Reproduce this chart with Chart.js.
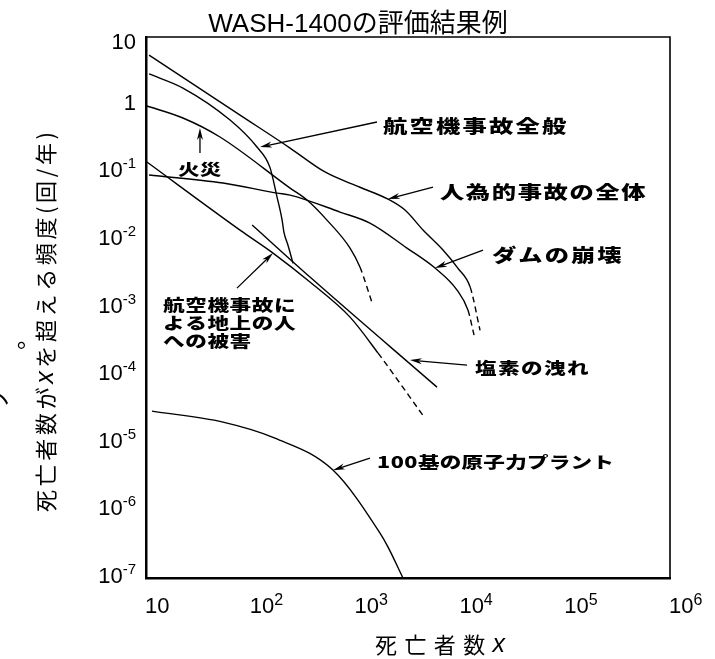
<!DOCTYPE html>
<html>
<head>
<meta charset="utf-8">
<script src="https://cdn.jsdelivr.net/npm/chart.js@4"></script>
<style>
  html, body { margin: 0; padding: 0; background: #fff; }
  #wrap { width: 715px; height: 659px; position: relative; }
</style>
</head>
<body>
<div id="wrap"><canvas id="risk-chart"></canvas></div>
<script>
// values: x = deaths, y = frequency per year of exceeding x

// 人為的事故の全体
const totalX = [10.7, 79, 237, 510, 1100, 2040, 2960, 4400, 6820, 9490, 12400, 15400];
const totalY = [5.4, 0.70, 0.228, 0.101, 0.060, 0.040, 0.0276, 0.0140, 0.0071, 0.0038, 0.0020, 0.00046];
// 航空機事故全般
const airX = [10.7, 22.5, 63.4, 114.5, 152, 178, 199, 207, 226, 253];
const airY = [2.84, 1.76, 0.591, 0.236, 0.119, 0.043, 0.0196, 0.0130, 0.0084, 0.0045];
// 火災
const fireX = [10.2, 22.5, 50.8, 237, 344, 533, 885, 1100, 1430];
const fireY = [0.953, 0.634, 0.332, 0.0583, 0.0388, 0.0196, 0.00757, 0.00396, 0.0012];
// ダムの崩壊
const damX = [10.7, 54.3, 178, 237, 709, 1370, 3090, 5730, 9290, 11800, 13500];
const damY = [0.091, 0.0692, 0.0492, 0.046, 0.0258, 0.0177, 0.00757, 0.00383, 0.00181, 0.000916, 0.000391];
// 塩素の洩れ
const chlorineX = [103, 367, 5980];
const chlorineY = [0.0166, 0.00282, 0.0000664];
// 航空機事故による地上の人への被害
const groundX = [10.2, 78.9, 163, 367, 885, 1640, 4590];
const groundY = [0.1416, 0.01396, 0.00638, 0.00238, 0.000721, 0.000211, 0.0000231];
// 100基の原子力プラント
const nuclearX = [11.4, 54.3, 170, 608, 1710, 2040, 2830];
const nuclearY = [2.93e-5, 2.02e-5, 1.17e-5, 3.94e-6, 4.6e-7, 2.86e-7, 1.0e-7];

// tick labels (powers of ten)
const xTickExps = [1, 2, 3, 4, 5, 6];
const yTickExps = [1, 0, -1, -2, -3, -4, -5, -6, -7];

const JP = "'Noto Sans CJK JP', sans-serif";
const LAT = "'Liberation Sans', Arial, sans-serif";

// dashFrom: index of the point where the dashed (extrapolated) part begins
const series = [
  { label: '人為的事故の全体', xs: totalX, ys: totalY, dashFrom: 10 },
  { label: '航空機事故全般', xs: airX, ys: airY },
  { label: '火災', xs: fireX, ys: fireY, dashFrom: 7 },
  { label: 'ダムの崩壊', xs: damX, ys: damY, dashFrom: 9 },
  { label: '塩素の洩れ', xs: chlorineX, ys: chlorineY },
  { label: '航空機事故による地上の人への被害', xs: groundX, ys: groundY, dashFrom: 5 },
  { label: '100基の原子力プラント', xs: nuclearX, ys: nuclearY }
];

// callouts, anchored in log10 data space
const notes = [
  { lines: ['航空機事故全般'], at: [3.261, -0.317], tail: [3.204, -0.257], tip: [2.088, -0.627], size: 18, adv: 26.5 },
  { lines: ['人為的事故の全体'], at: [3.805, -1.293], tail: [3.739, -1.219], tip: [3.309, -1.396], size: 18, adv: 25.9 },
  { lines: ['ダムの崩壊'], at: [4.302, -2.225], tail: [4.216, -2.151], tip: [3.758, -2.417], size: 18, adv: 26.3 },
  { lines: ['塩素の洩れ'], at: [4.139, -3.896], tail: [4.063, -3.852], tip: [3.519, -3.778], size: 16, adv: 23 },
  { lines: ['100基の原子力プラント'], at: [3.204, -5.287], tail: [3.137, -5.228], tip: [2.784, -5.405], size: 16, adv: 21.8 },
  { lines: ['火災'], at: [1.305, -0.953], tail: [1.515, -0.716], tip: [1.515, -0.346], size: 16, adv: 21.7 },
  { lines: ['航空機事故に', 'よる地上の人', 'への被害'], at: [1.162, -2.964], tail: [1.868, -2.713], tip: [2.212, -2.195], size: 16, adv: 22.2 }
];

function isWide(ch) {
  return /[\u3000-\u9fff\uff00-\uffef]/.test(ch);
}

function spreadText(ctx, text, x, y, size, adv) {
  const hs = 1.35;
  ctx.font = `900 ${size}px ${JP}`;
  ctx.textAlign = 'left';
  ctx.textBaseline = 'middle';
  let cx = x;
  for (const ch of text) {
    ctx.save();
    ctx.translate(cx, y);
    ctx.scale(hs, 1);
    ctx.fillText(ch, 0, 0);
    ctx.restore();
    cx += isWide(ch) ? adv : ctx.measureText(ch).width * hs + 0.5;
  }
}

function arrow(ctx, from, to) {
  const [x0, y0] = from, [x1, y1] = to;
  const a = Math.atan2(y1 - y0, x1 - x0);
  const L = 12, W = 3;
  const c = Math.cos(a), s = Math.sin(a);
  ctx.lineWidth = 1.3;
  ctx.beginPath();
  ctx.moveTo(x0, y0);
  ctx.lineTo(x1 - c * L * 0.7, y1 - s * L * 0.7);
  ctx.stroke();
  ctx.beginPath();
  ctx.moveTo(x1, y1);
  ctx.lineTo(x1 - L * c + W * s, y1 - L * s - W * c);
  ctx.lineTo(x1 - L * 0.7 * c, y1 - L * 0.7 * s);
  ctx.lineTo(x1 - L * c - W * s, y1 - L * s + W * c);
  ctx.closePath();
  ctx.fill();
}

function powLabel(ctx, exp, x, y, align, supSize, rise) {
  const base = exp === 0 ? '1' : '10';
  const sup = (exp === 0 || exp === 1) ? '' : String(exp);
  ctx.textAlign = 'left';
  ctx.textBaseline = 'alphabetic';
  ctx.font = `22px ${LAT}`;
  const wb = ctx.measureText(base).width;
  ctx.font = `${supSize}px ${LAT}`;
  const ws = sup ? ctx.measureText(sup).width : 0;
  const x0 = align === 'right' ? x - wb - ws : x;
  ctx.font = `22px ${LAT}`;
  ctx.fillText(base, x0, y);
  if (sup) {
    ctx.font = `${supSize}px ${LAT}`;
    ctx.fillText(sup, x0 + wb, y - rise);
  }
}

// lay out a run of glyphs (mixed fonts) evenly over a given length, centred on 0
function fittedRun(ctx, parts, length) {
  const glyphs = [];
  for (const p of parts) {
    ctx.font = p.font;
    for (const ch of p.text) glyphs.push({ ch, font: p.font, w: ctx.measureText(ch).width });
  }
  const sum = glyphs.reduce((t, g) => t + g.w, 0);
  const gap = (length - sum) / (glyphs.length - 1);
  let cx = -length / 2;
  ctx.textAlign = 'left';
  for (const g of glyphs) {
    ctx.font = g.font;
    ctx.fillText(g.ch, cx, 0);
    cx += g.w + gap;
  }
}

const figureText = {
  id: 'figureText',
  afterDraw(chart) {
    const { ctx, chartArea: a, scales: { x: sx, y: sy } } = chart;
    const P = ([lx, ly]) => [sx.getPixelForValue(10 ** lx), sy.getPixelForValue(10 ** ly)];
    ctx.save();
    ctx.fillStyle = '#000';
    ctx.strokeStyle = '#000';

    // top and right edges of the frame
    ctx.lineWidth = 1.6;
    ctx.beginPath();
    ctx.moveTo(a.left, a.top);
    ctx.lineTo(a.right, a.top);
    ctx.lineTo(a.right, a.bottom);
    ctx.stroke();

    // title
    ctx.font = `26px 'Liberation Sans', 'Noto Sans CJK JP', sans-serif`;
    ctx.textAlign = 'center';
    ctx.textBaseline = 'alphabetic';
    ctx.fillText('WASH-1400の評価結果例', 358, 32);

    // tick labels
    yTickExps.forEach(e => {
      const ty = sy.getPixelForValue(10 ** e);
      powLabel(ctx, e, a.left - 10, Math.max(ty + 5, 49), 'right', 15, 9);
    });
    xTickExps.forEach(e => {
      const tx = sx.getPixelForValue(10 ** e);
      powLabel(ctx, e, tx - 1, 613, 'left', 16, 8);
    });

    // axis titles
    ctx.save();
    ctx.translate(a.left + (440 - 146), 645);
    ctx.textBaseline = 'middle';
    fittedRun(ctx, [
      { text: '死亡者数', font: `22px ${JP}` },
      { text: 'x', font: `italic 25px ${LAT}` }
    ], 130);
    ctx.restore();

    ctx.save();
    ctx.translate(46, 322);
    ctx.rotate(-Math.PI / 2);
    ctx.textBaseline = 'middle';
    fittedRun(ctx, [
      { text: '死亡者数が', font: `22px ${JP}` },
      { text: 'x', font: `italic 25px ${LAT}` },
      { text: 'を超える頻度(回/年)', font: `22px ${JP}` }
    ], 380);
    ctx.restore();

    // cut-off fragments at the left edge of the figure
    ctx.save();
    ctx.font = `24px ${JP}`;
    ctx.textAlign = 'center';
    ctx.textBaseline = 'middle';
    ctx.translate(-2, 399);
    ctx.rotate(-Math.PI / 2);
    ctx.fillText('ソ', 0, 0);
    ctx.restore();
    ctx.save();
    ctx.font = `24px ${JP}`;
    ctx.textAlign = 'center';
    ctx.textBaseline = 'middle';
    ctx.translate(14, 338);
    ctx.rotate(-Math.PI / 2);
    ctx.fillText('。', 0, 0);
    ctx.restore();

    // callouts
    notes.forEach(n => {
      arrow(ctx, P(n.tail), P(n.tip));
      const [tx, ty] = P(n.at);
      n.lines.forEach((ln, i) => spreadText(ctx, ln, tx, ty + i * 18, n.size, n.adv));
    });
    ctx.restore();
  }
};

new Chart(document.getElementById('risk-chart'), {
  type: 'line',
  data: {
    datasets: series.map(s => ({
      label: s.label,
      data: s.xs.map((x, i) => ({ x, y: s.ys[i] })),
      borderColor: '#000',
      borderWidth: 1.4,
      pointRadius: 0,
      cubicInterpolationMode: 'monotone',
      segment: {
        borderDash: ctx => (s.dashFrom != null && ctx.p0DataIndex >= s.dashFrom) ? [6, 4] : undefined
      }
    }))
  },
  options: {
    responsive: true,
    maintainAspectRatio: false,
    animation: false,
    layout: { padding: { left: 146, top: 37, right: 45, bottom: 81 } },
    plugins: {
      legend: { display: false },
      tooltip: { enabled: false },
      title: { display: false }
    },
    scales: {
      x: {
        type: 'logarithmic',
        min: 10,
        max: 1e6,
        ticks: { display: false },
        grid: { display: false, drawTicks: false },
        border: { display: true, color: '#000', width: 2.5 }
      },
      y: {
        type: 'logarithmic',
        min: 1e-7,
        max: 10,
        ticks: { display: false },
        grid: { display: false, drawTicks: false },
        border: { display: true, color: '#000', width: 2.5 }
      }
    }
  },
  plugins: [figureText]
});
</script>
</body>
</html>
